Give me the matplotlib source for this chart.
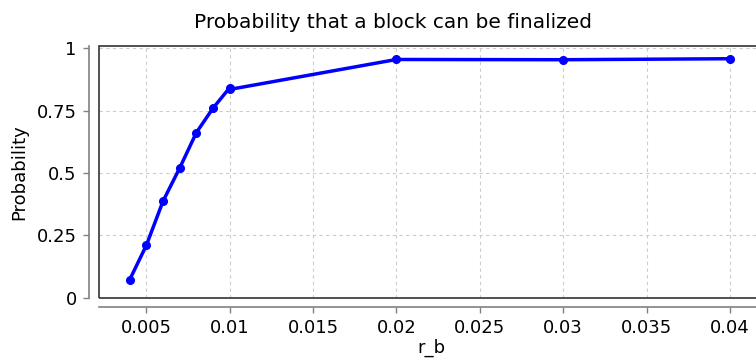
import matplotlib
matplotlib.use('Agg')
import matplotlib.pyplot as plt
from matplotlib.patches import Rectangle

# values
r_b = [0.004, 0.005, 0.006, 0.007, 0.008, 0.009, 0.01, 0.01, 0.02, 0.03, 0.04]
prob = [0.072, 0.21, 0.387, 0.52, 0.662, 0.76, 0.842, 0.835, 0.955, 0.954, 0.958]
xticks = [0.005, 0.01, 0.015, 0.02, 0.025, 0.03, 0.035, 0.04]
xtick_labels = ['0.005', '0.01', '0.015', '0.02', '0.025', '0.03', '0.035', '0.04']
yticks = [0, 0.25, 0.5, 0.75, 1]
ytick_labels = ['0', '0.25', '0.5', '0.75', '1']

plt.rcParams['font.family'] = 'DejaVu Sans'

fig = plt.figure(figsize=(7.56, 3.62), dpi=100)
W, H = 756, 362
left, right, top, bottom = 99, 760, 46, 297.7
ax = fig.add_axes([left / W, 1 - bottom / H, (right - left) / W, (bottom - top) / H])

ax.plot(r_b, prob, color='#0000ff', linewidth=2.5, marker='o', markersize=5.5, zorder=3)

ax.set_xlim(0.00216, 0.0418)
ax.set_ylim(0, 1.009)
ax.set_xticks(xticks)
ax.set_xticklabels(xtick_labels)
ax.set_yticks(yticks)
ax.set_yticklabels(ytick_labels)
ax.grid(True, color='#cccccc', linestyle=(0, (3, 3)), linewidth=0.8)

for side in ['top', 'right']:
    ax.spines[side].set_visible(False)
ax.spines['left'].set_position(('outward', 7))
ax.spines['bottom'].set_position(('outward', 7))
ax.spines['left'].set_color('#808080')
ax.spines['bottom'].set_color('#808080')
ax.spines['left'].set_linewidth(1.2)
ax.spines['bottom'].set_linewidth(1.2)
ax.tick_params(axis='both', colors='#808080', labelcolor='black', length=4, width=1, labelsize=13)
ax.tick_params(axis='x', pad=4)
ax.tick_params(axis='y', pad=5)

# plot outline
ax.add_patch(Rectangle((0, 0), 1, 1, transform=ax.transAxes, fill=False,
                       edgecolor='#333333', linewidth=1.2, clip_on=False, zorder=4))

fig.text(431 / W, 1 - 353 / H, 'r_b', ha='center', va='baseline', fontsize=13)
fig.text(19 / W, 1 - 172 / H, 'Probability', ha='center', va='center',
         rotation=90, fontsize=13)
fig.text(392.5 / W, 1 - 22 / H, 'Probability that a block can be finalized',
         ha='center', va='center', fontsize=14.5)

fig.savefig('out.png', dpi=100)
